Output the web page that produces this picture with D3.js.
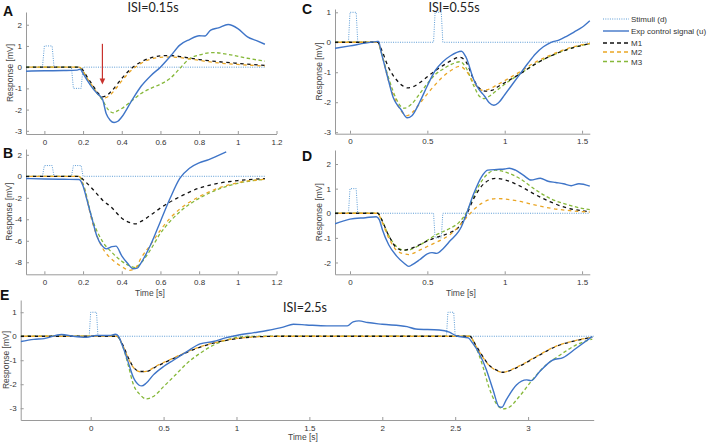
<!DOCTYPE html>
<html><head><meta charset="utf-8">
<script src="https://cdn.jsdelivr.net/npm/d3@7"></script>
<style>
html,body{margin:0;padding:0;background:#fff;}
svg{display:block;}
.tick text{font-family:"Liberation Sans",Arial,sans-serif;font-size:8px;fill:#333;}
.axis path,.axis line{stroke:#9a9a9a;}
</style></head>
<body>
<svg id="chart" width="708" height="444"></svg>
<script>
// ---------- DATA ----------
const seriesNames = ["Stimuli (d)", "Exp control signal (u)", "M1", "M2", "M3"];
const titles = { A: "ISI=0.15s", C: "ISI=0.55s", E: "ISI=2.5s" };

const ticksAB_x = [0, 0.2, 0.4, 0.6, 0.8, 1, 1.2];
const ticksA_y = [-3, -2, -1, 0, 1, 2];
const ticksB_y = [-8, -6, -4, -2, 0, 2];
const ticksCD_x = [0, 0.5, 1, 1.5];
const ticksC_y = [-3, -2, -1, 0, 1];
const ticksD_y = [-2, -1, 0, 1, 2];
const ticksE_x = [0, 0.5, 1, 1.5, 2, 2.5, 3];
const ticksE_y = [-3, -2, -1, 0, 1];

// Panel A
const A_stim = [[-0.095,0],[-0.01,0],[0,1],[0.04,1],[0.05,0],[0.14,0],[0.15,-1],[0.19,-1],[0.2,0],[1.14,0]];
const A_exp = [[-0.095,-0.19],[0,-0.17],[0.1,-0.16],[0.17,-0.14],[0.185,-0.1],[0.2,-0.3],[0.22,-0.6],[0.25,-1.0],[0.28,-1.3],[0.3,-1.5],[0.32,-2.2],[0.34,-2.5],[0.36,-2.61],[0.38,-2.55],[0.4,-2.35],[0.45,-1.6],[0.5,-0.9],[0.55,-0.4],[0.6,0.0],[0.65,0.5],[0.7,1.04],[0.75,1.3],[0.8,1.48],[0.83,1.47],[0.86,1.75],[0.9,1.85],[0.95,2.01],[1.0,1.82],[1.05,1.43],[1.1,1.24],[1.14,1.08]];
const A_m1 = [[-0.095,0],[0.18,0],[0.2,-0.15],[0.22,-0.45],[0.25,-0.85],[0.28,-1.25],[0.3,-1.4],[0.32,-1.35],[0.35,-1.1],[0.4,-0.53],[0.45,-0.06],[0.5,0.25],[0.55,0.44],[0.6,0.53],[0.65,0.55],[0.7,0.5],[0.8,0.36],[0.9,0.26],[1.0,0.18],[1.14,0.08]];
const A_m2 = [[-0.095,0],[0.18,0],[0.2,-0.2],[0.22,-0.5],[0.25,-0.9],[0.28,-1.3],[0.31,-1.45],[0.33,-1.38],[0.36,-1.12],[0.4,-0.65],[0.45,-0.15],[0.5,0.18],[0.55,0.38],[0.6,0.46],[0.65,0.48],[0.7,0.45],[0.8,0.32],[0.9,0.2],[1.0,0.13],[1.14,0.05]];
const A_m3 = [[-0.095,0],[0.18,0],[0.2,-0.2],[0.23,-0.7],[0.27,-1.2],[0.3,-1.55],[0.33,-2.0],[0.355,-2.15],[0.38,-2.05],[0.4,-1.95],[0.45,-1.6],[0.5,-1.24],[0.55,-1.0],[0.6,-0.8],[0.65,-0.53],[0.7,-0.06],[0.75,0.4],[0.8,0.57],[0.87,0.69],[0.95,0.6],[1.05,0.42],[1.14,0.28]];
const A_arrow = { t: 0.3, from: 1.1, to: -0.82 };

// Panel B
const B_stim = [[-0.095,0],[-0.01,0],[0,1],[0.04,1],[0.05,0],[0.14,0],[0.15,1],[0.19,1],[0.2,0],[1.14,0]];
const B_exp = [[-0.095,-0.2],[0.0,-0.25],[0.1,-0.28],[0.18,-0.3],[0.2,-0.9],[0.22,-2.2],[0.25,-4.2],[0.27,-5.5],[0.3,-6.5],[0.32,-6.75],[0.35,-6.55],[0.37,-6.5],[0.4,-7.4],[0.43,-8.1],[0.46,-8.6],[0.48,-8.55],[0.5,-8.05],[0.55,-6.35],[0.6,-4.2],[0.65,-2.05],[0.7,-0.2],[0.75,0.75],[0.8,1.25],[0.85,1.55],[0.9,1.95],[0.94,2.28]];
const B_m1 = [[-0.095,0],[0.18,0],[0.2,-0.3],[0.25,-1.2],[0.3,-2.2],[0.35,-2.95],[0.4,-3.9],[0.45,-4.35],[0.47,-4.42],[0.5,-4.2],[0.55,-3.6],[0.6,-2.95],[0.7,-1.9],[0.8,-1.1],[0.9,-0.65],[1.0,-0.4],[1.14,-0.22]];
const B_m2 = [[-0.095,0],[0.18,0],[0.2,-0.8],[0.25,-4.4],[0.3,-6.65],[0.35,-7.75],[0.4,-8.4],[0.44,-8.75],[0.47,-8.55],[0.5,-7.6],[0.55,-6.35],[0.6,-5.0],[0.65,-3.9],[0.7,-3.05],[0.8,-1.9],[0.9,-1.1],[1.0,-0.6],[1.14,-0.28]];
const B_m3 = [[-0.095,0],[0.18,0],[0.2,-0.7],[0.25,-4.1],[0.3,-6.05],[0.35,-7.1],[0.4,-7.9],[0.45,-8.4],[0.47,-8.5],[0.5,-8.05],[0.55,-6.8],[0.6,-5.3],[0.65,-4.2],[0.7,-3.3],[0.8,-2.05],[0.9,-1.2],[1.0,-0.65],[1.14,-0.28]];

// Panel C
const C_stim = [[-0.097,0],[-0.01,0],[0,1],[0.04,1],[0.05,0],[0.54,0],[0.55,1],[0.59,1],[0.6,0],[1.55,0]];
const C_exp = [[-0.097,-0.2],[0,-0.12],[0.1,-0.03],[0.17,0.02],[0.185,0.03],[0.2,-0.3],[0.22,-0.7],[0.25,-1.3],[0.28,-1.85],[0.3,-2.05],[0.33,-2.25],[0.37,-2.52],[0.4,-2.45],[0.45,-2.0],[0.5,-1.45],[0.55,-0.95],[0.6,-0.65],[0.65,-0.45],[0.72,-0.3],[0.75,-0.5],[0.8,-1.25],[0.83,-1.55],[0.87,-1.8],[0.9,-2.02],[0.93,-2.1],[0.96,-2.02],[1.0,-1.75],[1.05,-1.4],[1.1,-1.05],[1.15,-0.7],[1.2,-0.38],[1.25,-0.15],[1.3,0.0],[1.35,0.07],[1.4,0.2],[1.45,0.35],[1.5,0.5],[1.55,0.72]];
const C_m1 = [[-0.097,0],[0.18,0],[0.2,-0.2],[0.25,-0.85],[0.3,-1.25],[0.35,-1.48],[0.37,-1.52],[0.4,-1.5],[0.45,-1.35],[0.5,-1.15],[0.55,-0.95],[0.6,-0.78],[0.65,-0.62],[0.71,-0.5],[0.75,-0.65],[0.8,-1.25],[0.84,-1.55],[0.88,-1.63],[0.92,-1.6],[0.95,-1.5],[1.0,-1.35],[1.1,-1.05],[1.2,-0.72],[1.3,-0.45],[1.4,-0.25],[1.5,-0.1],[1.55,-0.05]];
const C_m2 = [[-0.097,0],[0.18,0],[0.2,-0.3],[0.25,-1.3],[0.3,-2.0],[0.35,-2.4],[0.37,-2.45],[0.4,-2.35],[0.45,-2.05],[0.5,-1.72],[0.55,-1.42],[0.6,-1.15],[0.65,-0.95],[0.71,-0.8],[0.75,-0.95],[0.8,-1.35],[0.85,-1.6],[0.89,-1.58],[0.95,-1.42],[1.0,-1.28],[1.1,-0.98],[1.2,-0.66],[1.3,-0.42],[1.4,-0.22],[1.5,-0.08],[1.55,-0.04]];
const C_m3 = [[-0.097,0],[0.18,0],[0.2,-0.3],[0.25,-1.2],[0.3,-1.9],[0.33,-2.15],[0.35,-2.2],[0.4,-2.05],[0.45,-1.72],[0.5,-1.38],[0.55,-1.08],[0.6,-0.9],[0.65,-0.75],[0.71,-0.65],[0.75,-0.85],[0.8,-1.45],[0.84,-1.82],[0.87,-1.88],[0.9,-1.8],[0.95,-1.6],[1.0,-1.4],[1.1,-1.05],[1.2,-0.72],[1.3,-0.45],[1.4,-0.25],[1.5,-0.1],[1.55,-0.05]];

// Panel D
const D_stim = [[-0.097,0],[-0.01,0],[0,1],[0.04,1],[0.05,0],[0.54,0],[0.55,-1],[0.59,-1],[0.6,0],[1.55,0]];
const D_exp = [[-0.097,-0.43],[0,-0.24],[0.1,-0.18],[0.17,-0.14],[0.19,-0.27],[0.21,-0.68],[0.25,-1.28],[0.3,-1.73],[0.35,-2.03],[0.38,-2.16],[0.4,-2.1],[0.45,-1.89],[0.5,-1.65],[0.53,-1.6],[0.56,-1.63],[0.6,-1.45],[0.65,-1.1],[0.7,-0.76],[0.72,-0.55],[0.75,-0.07],[0.8,0.8],[0.85,1.48],[0.89,1.75],[0.95,1.78],[1.0,1.8],[1.03,1.83],[1.07,1.75],[1.12,1.55],[1.17,1.35],[1.23,1.42],[1.28,1.3],[1.33,1.25],[1.38,1.2],[1.43,1.12],[1.48,1.2],[1.55,1.1]];
const D_m1 = [[-0.097,0],[0.18,0],[0.2,-0.2],[0.25,-0.9],[0.3,-1.4],[0.34,-1.5],[0.4,-1.42],[0.45,-1.28],[0.5,-1.12],[0.55,-1.0],[0.6,-0.9],[0.65,-0.78],[0.7,-0.58],[0.75,-0.1],[0.8,0.6],[0.85,1.1],[0.9,1.35],[0.94,1.42],[1.0,1.36],[1.1,1.1],[1.2,0.75],[1.3,0.45],[1.4,0.22],[1.5,0.1],[1.55,0.06]];
const D_m2 = [[-0.097,0],[0.18,0],[0.2,-0.25],[0.25,-1.0],[0.3,-1.5],[0.35,-1.65],[0.38,-1.68],[0.4,-1.65],[0.45,-1.5],[0.5,-1.35],[0.55,-1.2],[0.6,-1.05],[0.65,-0.85],[0.7,-0.55],[0.75,-0.2],[0.8,0.15],[0.85,0.4],[0.9,0.55],[0.95,0.6],[1.0,0.58],[1.1,0.48],[1.2,0.33],[1.3,0.2],[1.4,0.12],[1.55,0.05]];
const D_m3 = [[-0.097,0],[0.18,0],[0.2,-0.2],[0.25,-0.9],[0.3,-1.35],[0.35,-1.5],[0.38,-1.5],[0.4,-1.45],[0.45,-1.3],[0.5,-1.1],[0.55,-0.9],[0.6,-0.75],[0.65,-0.6],[0.7,-0.4],[0.75,0.0],[0.8,0.7],[0.85,1.3],[0.9,1.65],[0.94,1.75],[1.0,1.68],[1.1,1.4],[1.2,0.95],[1.3,0.58],[1.4,0.36],[1.5,0.2],[1.55,0.15]];

// Panel E
const E_stim = [[-0.48,0],[-0.01,0],[0,1],[0.04,1],[0.05,0],[2.44,0],[2.45,1],[2.49,1],[2.5,0],[3.45,0]];
const E_exp = [[-0.48,-0.22],[-0.39,-0.13],[-0.32,-0.1],[-0.2,0.07],[-0.12,0.0],[-0.03,-0.04],[0.04,0.03],[0.13,0.03],[0.17,0.08],[0.19,0.0],[0.22,-0.43],[0.26,-1.13],[0.29,-1.68],[0.33,-2.03],[0.35,-2.07],[0.38,-1.96],[0.43,-1.61],[0.5,-1.26],[0.57,-0.99],[0.66,-0.64],[0.75,-0.32],[0.84,-0.22],[0.93,-0.06],[1.0,0.03],[1.12,0.15],[1.21,0.24],[1.32,0.38],[1.39,0.5],[1.48,0.47],[1.62,0.43],[1.76,0.43],[1.8,0.6],[1.84,0.64],[1.9,0.57],[2.0,0.5],[2.17,0.4],[2.23,0.3],[2.39,0.26],[2.46,0.17],[2.51,0.01],[2.59,-0.07],[2.62,-0.29],[2.67,-0.78],[2.71,-1.33],[2.76,-2.24],[2.8,-2.93],[2.82,-2.96],[2.85,-2.65],[2.92,-2.03],[2.99,-1.82],[3.02,-1.85],[3.08,-1.47],[3.17,-0.99],[3.24,-0.89],[3.33,-0.5],[3.44,-0.01]];
const E_m1 = [[-0.48,0],[0.18,0],[0.22,-0.36],[0.26,-0.92],[0.29,-1.26],[0.34,-1.47],[0.38,-1.47],[0.45,-1.26],[0.57,-0.92],[0.7,-0.57],[0.84,-0.29],[0.98,-0.12],[1.12,-0.03],[1.3,0],[2.6,0],[2.64,-0.36],[2.69,-0.85],[2.73,-1.19],[2.78,-1.4],[2.83,-1.5],[2.87,-1.44],[2.96,-1.19],[3.06,-0.85],[3.19,-0.43],[3.33,-0.18],[3.44,-0.04]];
const E_m2 = [[-0.48,0],[0.18,0],[0.22,-0.38],[0.26,-0.95],[0.29,-1.28],[0.34,-1.48],[0.38,-1.46],[0.45,-1.24],[0.57,-0.9],[0.7,-0.55],[0.84,-0.28],[0.98,-0.11],[1.12,-0.03],[1.3,0],[2.6,0],[2.64,-0.38],[2.69,-0.88],[2.73,-1.2],[2.78,-1.42],[2.83,-1.5],[2.87,-1.43],[2.96,-1.17],[3.06,-0.83],[3.19,-0.42],[3.33,-0.17],[3.44,-0.04]];
const E_m3 = [[-0.48,0],[0.18,0],[0.22,-0.43],[0.26,-1.26],[0.29,-1.96],[0.34,-2.44],[0.38,-2.61],[0.43,-2.51],[0.5,-2.1],[0.57,-1.68],[0.66,-1.13],[0.75,-0.71],[0.87,-0.29],[0.98,-0.08],[1.07,-0.01],[1.2,0],[2.6,0],[2.64,-0.43],[2.69,-1.26],[2.73,-2.1],[2.78,-2.79],[2.83,-3.03],[2.87,-2.96],[2.94,-2.51],[3.02,-1.89],[3.1,-1.33],[3.22,-0.78],[3.33,-0.36],[3.44,-0.12]];

// ---------- STYLE ----------
const COL = { stim: "#5b9bd5", exp: "#3f75c8", m1: "#111111", m2: "#eaa625", m3: "#86b83a", axis: "#9a9a9a", arrow: "#c8322d" };
const svg = d3.select("#chart");

function drawPanel(p) {
  const x = d3.scaleLinear().domain(p.xd).range(p.xr);
  const y = d3.scaleLinear().domain(p.yd).range(p.yr);
  const g = svg.append("g");
  const clipId = "clip" + p.id;
  svg.append("clipPath").attr("id", clipId).append("rect")
    .attr("x", p.xr[0]).attr("y", p.yr[1] - 2).attr("width", p.xr[1] - p.xr[0] + 2).attr("height", p.yr[0] - p.yr[1] + 2);

  g.append("g").attr("class", "axis").attr("transform", `translate(0,${p.yr[0]})`)
    .call(d3.axisBottom(x).tickValues(p.xt).tickSizeInner(-3).tickSizeOuter(0).tickPadding(5).tickFormat(d => String(d)));
  g.append("g").attr("class", "axis").attr("transform", `translate(${p.xr[0]},0)`)
    .call(d3.axisLeft(y).tickValues(p.yt).tickSizeInner(-3).tickSizeOuter(0).tickPadding(4).tickFormat(d => String(d)));

  const lin = d3.line().x(d => x(d[0])).y(d => y(d[1]));
  const smooth = d3.line().x(d => x(d[0])).y(d => y(d[1])).curve(d3.curveMonotoneX);
  const lg = g.append("g").attr("clip-path", `url(#${clipId})`);
  lg.append("path").attr("d", lin(p.stim)).attr("fill", "none").attr("stroke", COL.stim).attr("stroke-width", 1).attr("stroke-dasharray", "1,1.3");
  lg.append("path").attr("d", smooth(p.m3)).attr("fill", "none").attr("stroke", COL.m3).attr("stroke-width", 1.3).attr("stroke-dasharray", "3.5,2.5");
  lg.append("path").attr("d", smooth(p.m1)).attr("fill", "none").attr("stroke", COL.m1).attr("stroke-width", 1.3).attr("stroke-dasharray", "3.5,3.5");
  lg.append("path").attr("d", smooth(p.m2)).attr("fill", "none").attr("stroke", COL.m2).attr("stroke-width", 1.3).attr("stroke-dasharray", "3.5,3.5").attr("stroke-dashoffset", 3.5);
  lg.append("path").attr("d", smooth(p.exp)).attr("fill", "none").attr("stroke", COL.exp).attr("stroke-width", 1.4);

  g.append("text").attr("transform", `translate(${p.ylx},${(p.yr[0] + p.yr[1]) / 2}) rotate(-90)`)
    .attr("text-anchor", "middle").attr("font-family", "Liberation Sans, Arial, sans-serif").attr("font-size", 8.5).attr("fill", "#444")
    .text("Response [mV]");
  if (p.xl) {
    g.append("text").attr("x", p.xl[0]).attr("y", p.xl[1]).attr("text-anchor", "middle")
      .attr("font-family", "Liberation Sans, Arial, sans-serif").attr("font-size", 8.5).attr("fill", "#444").text("Time [s]");
  }
  g.append("text").attr("x", p.letter[0]).attr("y", p.letter[1]).attr("font-family", "Liberation Sans, Arial, sans-serif")
    .attr("font-weight", "bold").attr("font-size", 14).attr("fill", "#111").text(p.id);
  if (p.title) {
    g.append("text").attr("x", p.title[0]).attr("y", p.title[1]).attr("text-anchor", "middle")
      .attr("font-family", "Lato, 'Open Sans', sans-serif").attr("font-size", 12.5).attr("fill", "#222").text(p.title[2]);
  }
  return { x, y, g };
}

const pA = drawPanel({ id: "A", xd: [-0.095, 1.2], xr: [26, 276.5], yd: [-3.15, 2.6], yr: [134, 12], xt: ticksAB_x, yt: ticksA_y,
  stim: A_stim, exp: A_exp, m1: A_m1, m2: A_m2, m3: A_m3, ylx: 12.5, letter: [3, 15.5], title: [153, 11.5, titles.A] });
drawPanel({ id: "B", xd: [-0.095, 1.2], xr: [26, 276.5], yd: [-9.12, 2.54], yr: [274.3, 149], xt: ticksAB_x, yt: ticksB_y,
  stim: B_stim, exp: B_exp, m1: B_m1, m2: B_m2, m3: B_m3, ylx: 12, letter: [3, 157.5], xl: [150, 295.5] });
drawPanel({ id: "C", xd: [-0.097, 1.55], xr: [335, 589.8], yd: [-3.05, 1.11], yr: [133.7, 9], xt: ticksCD_x, yt: ticksC_y,
  stim: C_stim, exp: C_exp, m1: C_m1, m2: C_m2, m3: C_m3, ylx: 322, letter: [302, 14], title: [454, 11.5, titles.C] });
drawPanel({ id: "D", xd: [-0.097, 1.55], xr: [335, 589.8], yd: [-2.48, 2.57], yr: [274.3, 150], xt: ticksCD_x, yt: ticksD_y,
  stim: D_stim, exp: D_exp, m1: D_m1, m2: D_m2, m3: D_m3, ylx: 322, letter: [302, 161], xl: [461, 296] });
drawPanel({ id: "E", xd: [-0.48, 3.45], xr: [20.7, 593.7], yd: [-3.49, 1.51], yr: [420, 300], xt: ticksE_x, yt: ticksE_y,
  stim: E_stim, exp: E_exp, m1: E_m1, m2: E_m2, m3: E_m3, ylx: 9, letter: [0, 300], xl: [303, 439.5], title: [305, 311.5, titles.E] });

// red arrow in A
const ax0 = pA.x(A_arrow.t), ay0 = pA.y(A_arrow.from), ay1 = pA.y(A_arrow.to);
pA.g.append("line").attr("x1", ax0).attr("x2", ax0).attr("y1", ay0).attr("y2", ay1 - 5).attr("stroke", COL.arrow).attr("stroke-width", 1.2);
pA.g.append("path").attr("d", `M${ax0 - 2.8},${ay1 - 6} L${ax0 + 2.8},${ay1 - 6} L${ax0},${ay1} Z`).attr("fill", COL.arrow);

// legend
const leg = svg.append("g").attr("font-family", "Liberation Sans, Arial, sans-serif").attr("font-size", 8).attr("fill", "#333");
const legRows = [
  { name: seriesNames[0], y: 19, stroke: COL.stim, dash: "1,1.3", w: 1 },
  { name: seriesNames[1], y: 31, stroke: COL.exp, dash: null, w: 1.4 },
  { name: seriesNames[2], y: 43, stroke: COL.m1, dash: "4,3", w: 1.4 },
  { name: seriesNames[3], y: 52, stroke: COL.m2, dash: "4,3", w: 1.4 },
  { name: seriesNames[4], y: 61.5, stroke: COL.m3, dash: "4,3", w: 1.4 }
];
legRows.forEach(r => {
  leg.append("line").attr("x1", 603).attr("x2", 629).attr("y1", r.y).attr("y2", r.y)
    .attr("stroke", r.stroke).attr("stroke-width", r.w).attr("stroke-dasharray", r.dash);
  leg.append("text").attr("x", 631).attr("y", r.y + 3).text(r.name);
});
</script>
</body></html>
